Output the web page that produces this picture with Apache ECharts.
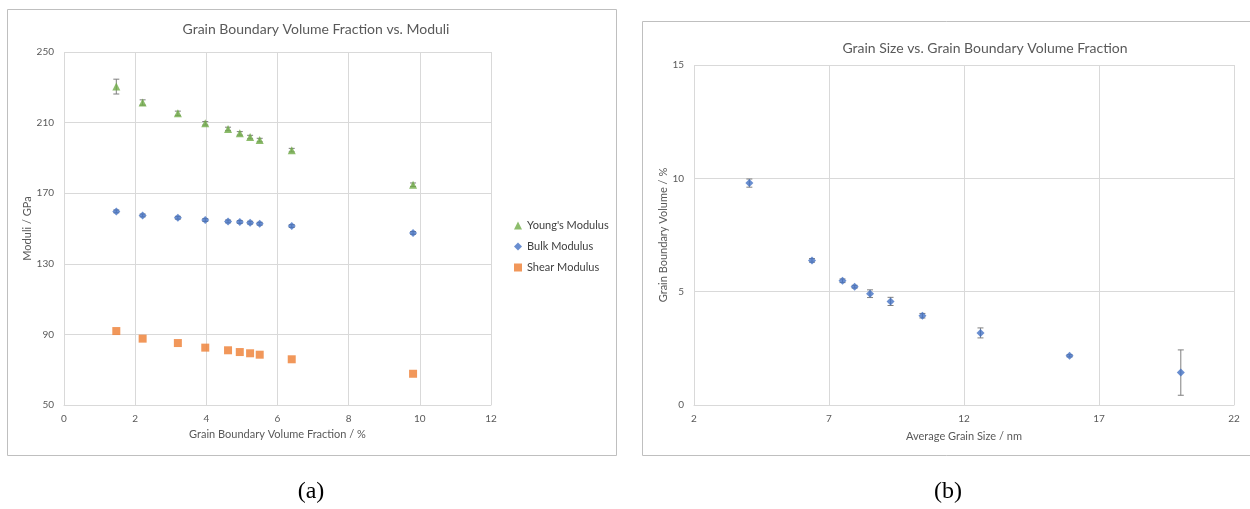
<!DOCTYPE html>
<html><head><meta charset="utf-8">
<script src="https://cdn.jsdelivr.net/npm/echarts@6/dist/echarts.min.js"></script>
<style>html,body{margin:0;padding:0;background:#fff}#c{width:1250px;height:509px}</style>
</head><body><div id="c"></div>
<script>
// Chart (a)
const gbFraction = [1.47, 2.21, 3.20, 3.97, 4.61, 4.94, 5.23, 5.50, 6.40, 9.81];
const youngs = [230.4, 221.4, 215.3, 209.6, 206.4, 203.9, 201.8, 200.1, 194.4, 174.8];
const youngsErr = [4.2, 1.5, 1.2, 1.0, 1.0, 1.0, 1.0, 1.0, 1.0, 1.0];
const bulk = [159.7, 157.4, 156.1, 154.8, 154.0, 153.7, 153.3, 152.7, 151.4, 147.5];
const bulkErr = [0.8, 0.8, 0.8, 0.8, 0.8, 0.8, 0.8, 0.8, 0.8, 0.8];
const shear = [91.9, 87.6, 85.1, 82.5, 81.0, 80.0, 79.3, 78.5, 75.9, 67.7];
const xTicksA = [0, 2, 4, 6, 8, 10, 12];
const yTicksA = [50, 90, 130, 170, 210, 250];
// Chart (b)
const grainSize = [4.05, 6.37, 7.50, 7.95, 8.52, 9.28, 10.46, 12.61, 15.91, 20.03];
const gbVolume = [9.79, 6.38, 5.48, 5.22, 4.91, 4.57, 3.94, 3.18, 2.17, 1.43];
const gbVolumeErr = [0.18, 0.08, 0.08, 0.06, 0.17, 0.18, 0.10, 0.22, 0.05, 1.00];
const xTicksB = [2, 7, 12, 17, 22];
const yTicksB = [0, 5, 10, 15];

const FONT = 'Lato';
const TXT = '#595959';
const GRID = '#d9d9d9';

function pairs(xs, ys) { return xs.map((x, i) => [x, ys[i]]); }
function errData(xs, ys, es) { return xs.map((x, i) => [x, ys[i] - es[i], ys[i] + es[i]]); }
function errSeries(xi, yi, data) {
  return {
    type: 'custom', xAxisIndex: xi, yAxisIndex: yi, data: data, z: 1, silent: true,
    renderItem: function (params, api) {
      const lo = api.coord([api.value(0), api.value(1)]);
      const hi = api.coord([api.value(0), api.value(2)]);
      const w = 3;
      const st = { stroke: '#7f7f7f', lineWidth: 1 };
      return { type: 'group', children: [
        { type: 'line', shape: { x1: lo[0], y1: lo[1], x2: hi[0], y2: hi[1] }, style: st },
        { type: 'line', shape: { x1: lo[0] - w, y1: lo[1], x2: lo[0] + w, y2: lo[1] }, style: st },
        { type: 'line', shape: { x1: hi[0] - w, y1: hi[1], x2: hi[0] + w, y2: hi[1] }, style: st }
      ]};
    }
  };
}
function valAxis(gi, min, max, interval, name, gap, extra) {
  return Object.assign({
    type: 'value', gridIndex: gi, min: min, max: max, interval: interval,
    name: name, nameLocation: 'middle', nameGap: gap,
    nameTextStyle: { color: TXT, fontFamily: FONT, fontSize: 11 },
    axisLine: { show: true, lineStyle: { color: GRID } },
    axisTick: { show: false },
    axisLabel: { color: TXT, fontFamily: FONT, fontSize: 10 },
    splitLine: { show: true, lineStyle: { color: GRID } }
  }, extra || {});
}

const chart = echarts.init(document.getElementById('c'), null, { renderer: 'canvas' });
chart.setOption({
  animation: false,
  title: [
    { text: 'Grain Boundary Volume Fraction vs. Moduli', left: 311, top: 17, textAlign: 'center',
      textStyle: { color: TXT, fontFamily: FONT, fontSize: 14, fontWeight: 'normal' } },
    { text: 'Grain Size vs. Grain Boundary Volume Fraction', left: 980, top: 36, textAlign: 'center',
      textStyle: { color: TXT, fontFamily: FONT, fontSize: 14, fontWeight: 'normal' } }
  ],
  legend: {
    orient: 'vertical', left: 509, top: 215, itemGap: 10, itemWidth: 8, itemHeight: 8,
    textStyle: { color: '#404040', fontFamily: FONT, fontSize: 11 },
    data: [
      { name: "Young's Modulus", icon: 'triangle' },
      { name: 'Bulk Modulus', icon: 'diamond' },
      { name: 'Shear Modulus', icon: 'rect' }
    ]
  },
  grid: [
    { left: 64, top: 52, width: 427, height: 353 },
    { left: 694, top: 65, width: 540, height: 340 }
  ],
  xAxis: [
    valAxis(0, xTicksA[0], xTicksA[xTicksA.length - 1], xTicksA[1] - xTicksA[0], 'Grain Boundary Volume Fraction / %', 24, { axisLabel: { color: TXT, fontFamily: FONT, fontSize: 10, margin: 9 } }),
    valAxis(1, xTicksB[0], xTicksB[xTicksB.length - 1], xTicksB[1] - xTicksB[0], 'Average Grain Size / nm', 26, { axisLabel: { color: TXT, fontFamily: FONT, fontSize: 10, margin: 9 } })
  ],
  yAxis: [
    valAxis(0, yTicksA[0], yTicksA[yTicksA.length - 1], yTicksA[1] - yTicksA[0], 'Moduli / GPa', 29, { axisLine: { show: false }, axisLabel: { color: TXT, fontFamily: FONT, fontSize: 10, margin: 10 } }),
    valAxis(1, yTicksB[0], yTicksB[yTicksB.length - 1], yTicksB[1] - yTicksB[0], 'Grain Boundary Volume / %', 24, { axisLine: { show: false }, axisLabel: { color: TXT, fontFamily: FONT, fontSize: 10, margin: 10 } })
  ],
  series: [
    errSeries(0, 0, errData(gbFraction, youngs, youngsErr)),
    errSeries(0, 0, errData(gbFraction, bulk, bulkErr)),
    { name: "Young's Modulus", type: 'scatter', xAxisIndex: 0, yAxisIndex: 0, symbol: 'triangle', symbolSize: 8,
      itemStyle: { color: '#70ad47' }, data: pairs(gbFraction, youngs), z: 2 },
    { name: 'Bulk Modulus', type: 'scatter', xAxisIndex: 0, yAxisIndex: 0, symbol: 'diamond', symbolSize: 8,
      itemStyle: { color: '#4472c4' }, data: pairs(gbFraction, bulk), z: 2 },
    { name: 'Shear Modulus', type: 'scatter', xAxisIndex: 0, yAxisIndex: 0, symbol: 'rect', symbolSize: 8,
      itemStyle: { color: '#ed7d31' }, data: pairs(gbFraction, shear), z: 2 },
    errSeries(1, 1, errData(grainSize, gbVolume, gbVolumeErr)),
    { name: 'Grain Boundary Volume', type: 'scatter', xAxisIndex: 1, yAxisIndex: 1, symbol: 'diamond', symbolSize: 8,
      itemStyle: { color: '#4472c4' }, data: pairs(grainSize, gbVolume), z: 2 }
  ],
  graphic: [
    { type: 'rect', shape: { x: 7.5, y: 9.5, width: 609, height: 446 }, style: { fill: 'none', stroke: '#bfbfbf', lineWidth: 1 }, silent: true },
    { type: 'rect', shape: { x: 642.5, y: 21.5, width: 620, height: 434 }, style: { fill: 'none', stroke: '#bfbfbf', lineWidth: 1 }, silent: true },
    { type: 'text', x: 311, y: 492, style: { text: '(a)', font: '24px "Liberation Serif"', fill: '#000', textAlign: 'center', textVerticalAlign: 'middle' } },
    { type: 'text', x: 948, y: 492, style: { text: '(b)', font: '24px "Liberation Serif"', fill: '#000', textAlign: 'center', textVerticalAlign: 'middle' } }
  ]
});
</script>
</body></html>
